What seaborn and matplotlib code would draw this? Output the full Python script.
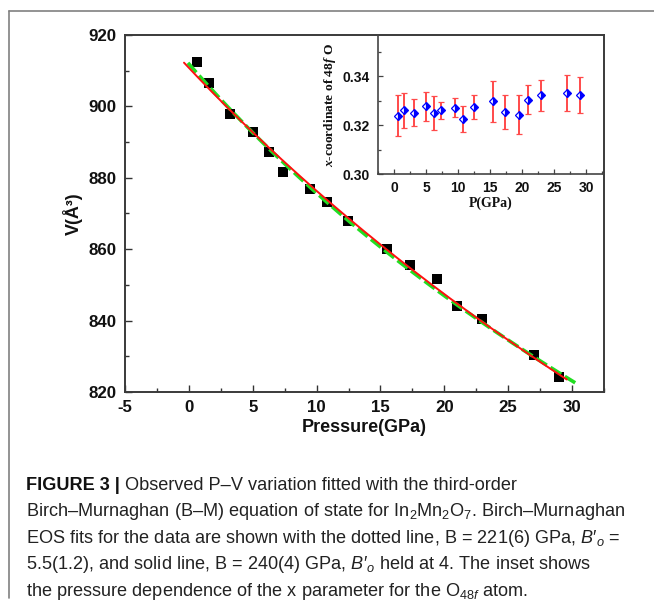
import numpy as np
import pandas as pd
import matplotlib
matplotlib.use("Agg")
import matplotlib.pyplot as plt
import seaborn as sns
from matplotlib.lines import Line2D
from matplotlib.ticker import MultipleLocator, FormatStrFormatter

# ---------------- data ----------------
pressure = [0.6, 1.6, 3.2, 5.05, 6.3, 7.4, 9.5, 10.85, 12.45, 15.5, 17.3, 19.45, 21.0, 22.95, 27.05, 29.0]
volume = [912.4, 906.5, 898.0, 892.7, 887.1, 881.6, 876.8, 873.3, 868.0, 860.0, 855.6, 851.7, 844.2, 840.4, 830.4, 824.3]
x_coord = [0.3239, 0.3261, 0.3251, 0.3277, 0.3251, 0.3261, 0.3272, 0.3227, 0.3274, 0.3298, 0.3254, 0.3242, 0.3305, 0.3322, 0.3332, 0.3324]
x_err = [0.0084, 0.0072, 0.0055, 0.0061, 0.0070, 0.0034, 0.0040, 0.0053, 0.0049, 0.0084, 0.0070, 0.0080, 0.0059, 0.0065, 0.0072, 0.0075]

# Birch-Murnaghan fit parameters (caption): V0
fit_solid = dict(V0=910.8, B0=240.0, Bp=4.0, pmin=-0.4, pmax=29.6)
fit_dotted = dict(V0=911.9, B0=221.0, Bp=5.5, pmin=-0.1, pmax=30.3)

main_xticks = [-5, 0, 5, 10, 15, 20, 25, 30]
main_yticks = [820, 840, 860, 880, 900, 920]

# ---------------- style ----------------
sns.set_style("ticks")
plt.rcParams["font.family"] = ["Liberation Sans", "DejaVu Sans"]
plt.rcParams["axes.unicode_minus"] = False
plt.rcParams["mathtext.fontset"] = "custom"
plt.rcParams["mathtext.rm"] = "Liberation Sans"
plt.rcParams["mathtext.it"] = "Liberation Sans:italic"
plt.rcParams["mathtext.bf"] = "Liberation Serif:bold"
plt.rcParams["mathtext.bfit"] = "Liberation Serif:italic:bold"

W, H = 654, 602
fig = plt.figure(figsize=(W / 100, H / 100), dpi=100)
fig.patch.set_facecolor("white")


def fx(px):
    return px / W


def fy(py):
    return 1 - py / H


def bm3_curve(V0, B0, Bp, pmin, pmax):
    V = np.linspace(V0 + 5, 818, 800)
    eta = (V0 / V) ** (2.0 / 3.0)
    P = 1.5 * B0 * (eta ** 3.5 - eta ** 2.5) * (1 + 0.75 * (Bp - 4) * (eta - 1))
    m = (P >= pmin) & (P <= pmax)
    return pd.DataFrame({"P": P[m], "V": V[m]})


# ---------------- main axes ----------------
ax = fig.add_axes([fx(125), fy(392), fx(604) - fx(125), fy(35) - fy(392)])
df = pd.DataFrame({"P": pressure, "V": volume})
sns.scatterplot(data=df, x="P", y="V", marker="s", s=46, color="black",
                edgecolor="black", linewidth=0, ax=ax, zorder=2)

dd = bm3_curve(**fit_dotted)
sns.lineplot(data=dd, x="P", y="V", color="#22dd22", linewidth=2.6,
             estimator=None, sort=False, ax=ax, zorder=3)
ax.lines[-1].set_dashes([3.5, 1.2])
ds = bm3_curve(**fit_solid)
sns.lineplot(data=ds, x="P", y="V", color="#ff1010", linewidth=1.4,
             estimator=None, sort=False, ax=ax, zorder=4)

ax.set_xlim(-5, 32.5)
ax.set_ylim(820, 920)
ax.set_xticks(main_xticks)
ax.set_yticks(main_yticks)
ax.xaxis.set_minor_locator(MultipleLocator(2.5))
ax.yaxis.set_minor_locator(MultipleLocator(10))
ax.tick_params(which="both", direction="in", top=False, right=False,
               color="#333333", width=1.0)
ax.tick_params(which="major", length=5)
ax.tick_params(which="minor", length=3)
ax.tick_params(axis="x", which="major", pad=6)
ax.tick_params(axis="y", which="major", pad=6)
for lab in ax.get_xticklabels() + ax.get_yticklabels():
    lab.set_fontweight("bold")
    lab.set_fontsize(12.2)
    lab.set_color("#111111")
for s in ax.spines.values():
    s.set_visible(True)
    s.set_color("#3a3a3a")
    s.set_linewidth(1.4)
ax.set_xlabel("Pressure(GPa)", fontsize=13, fontweight="bold", labelpad=3, color="#111111")
ax.set_ylabel("V(Å³)", fontsize=13, fontweight="bold", labelpad=4, color="#111111")

# ---------------- inset ----------------
axin = fig.add_axes([fx(378), fy(174), fx(604) - fx(378), fy(35) - fy(174)])
axin.set_facecolor("none")
axin.errorbar(pressure, x_coord, yerr=x_err, fmt="D", color="blue",
              ecolor="#ff4a4a", elinewidth=1.4, capsize=2.0, capthick=1.0,
              markersize=4.3, markerfacecolor="blue", markerfacecoloralt="white",
              fillstyle="right", markeredgecolor="blue", markeredgewidth=0.9)
axin.set_xlim(-2.5, 32.8)
axin.set_ylim(0.30, 0.357)
axin.xaxis.set_major_locator(MultipleLocator(5))
axin.xaxis.set_minor_locator(MultipleLocator(2.5))
axin.yaxis.set_major_locator(MultipleLocator(0.02))
axin.yaxis.set_minor_locator(MultipleLocator(0.01))
axin.yaxis.set_major_formatter(FormatStrFormatter("%.2f"))
axin.tick_params(which="both", direction="in", top=False, right=False,
                 color="#444444", width=0.9)
axin.tick_params(which="major", length=3.5)
axin.tick_params(which="minor", length=2)
axin.tick_params(axis="x", which="major", pad=5)
axin.tick_params(axis="y", which="major", pad=6)
for lab in axin.get_xticklabels() + axin.get_yticklabels():
    lab.set_fontweight("bold")
    lab.set_fontsize(10)
    lab.set_color("#111111")
axin.spines["top"].set_visible(False)
axin.spines["right"].set_visible(False)
for k in ("left", "bottom"):
    axin.spines[k].set_color("#444444")
    axin.spines[k].set_linewidth(1.2)
axin.set_xlabel("P(GPa)", family="Liberation Serif", fontweight="bold",
                fontsize=10, labelpad=1, color="#111111")
axin.set_ylabel(r"$\mathbfit{x}$-coordinate of 48$\mathbfit{f}$ O", family="Liberation Serif",
                fontweight="bold", fontsize=9.7, labelpad=3, color="#111111")

# ---------------- frame ----------------
fig.add_artist(Line2D([fx(9), 1.0], [fy(11), fy(11)], transform=fig.transFigure,
                      color="#808080", linewidth=1.2))
fig.add_artist(Line2D([fx(9), fx(9)], [fy(11), fy(598)], transform=fig.transFigure,
                      color="#808080", linewidth=1.2))

# ---------------- caption ----------------
cap_lines = [
    "Observed P–V variation fitted with the third-order",
    "Birch–Murnaghan (B–M) equation of state for In$_2$Mn$_2$O$_7$. Birch–Murnaghan",
    "EOS fits for the data are shown with the dotted line, B = 221(6) GPa, $B$\u2032$_o$ =",
    "5.5(1.2), and solid line, B = 240(4) GPa, $B$\u2032$_o$ held at 4. The inset shows",
    "the pressure dependence of the x parameter for the O$_{\\mathit{48f}}$ atom.",
]
cap_baselines = [489.5, 516, 542.7, 569.3, 596]
cap_x = 26

renderer = fig.canvas.get_renderer()
probe = fig.text(0, 0, cap_lines[1], fontsize=10)
wprobe = probe.get_window_extent(renderer).width
probe.remove()
cap_fs = 10 * 600.0 / wprobe

head = fig.text(fx(cap_x), fy(cap_baselines[0]), "FIGURE 3 |", fontsize=cap_fs,
                fontweight="bold", va="baseline", ha="left", color="#111111")
hb = head.get_window_extent(renderer)
fig.text(fx(hb.x1 + 5), fy(cap_baselines[0]), cap_lines[0], fontsize=cap_fs,
         va="baseline", ha="left", color="#222222")
for txt, yb in zip(cap_lines[1:], cap_baselines[1:]):
    fig.text(fx(cap_x), fy(yb), txt, fontsize=cap_fs, va="baseline", ha="left",
             color="#222222")

fig.savefig("out.png", dpi=100, facecolor="white")
